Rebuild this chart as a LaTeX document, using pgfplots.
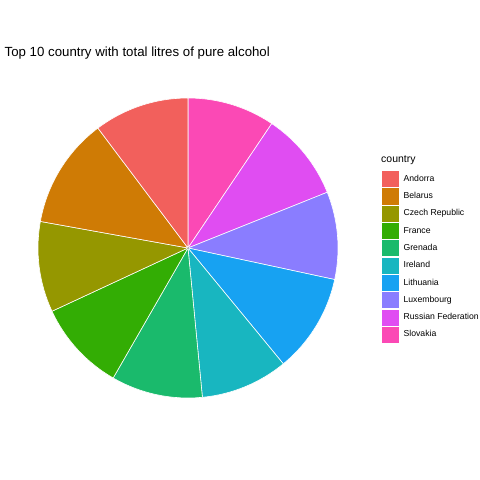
\documentclass[border=0pt]{standalone}
\usepackage{pgfplots}
\usepackage{pgfplotstable}
\pgfplotsset{compat=1.18}
\usepackage{fontspec}
\setmainfont{Liberation Sans}
\definecolor{col0}{HTML}{F2605C}
\definecolor{col1}{HTML}{CF7B05}
\definecolor{col2}{HTML}{959700}
\definecolor{col3}{HTML}{33AD04}
\definecolor{col4}{HTML}{1ABA6C}
\definecolor{col5}{HTML}{18B6C0}
\definecolor{col6}{HTML}{17A2F2}
\definecolor{col7}{HTML}{8A7DFF}
\definecolor{col8}{HTML}{E04DF2}
\definecolor{col9}{HTML}{FB49B5}
% clockwise from 12 o'clock; cum = litres stacked before the slice
\pgfplotstableread{
idx cum litres
9 0 11.4
8 11.4 11.5
7 22.9 11.4
6 34.3 12.9
5 47.2 11.4
4 58.6 11.9
3 70.5 11.8
2 82.3 11.8
1 94.1 14.4
0 108.5 12.4
}\drinks
\def\total{120.9}
\newcommand\key[2]{\addlegendimage{legend image code/.code={\fill[#1] (0bp,-7.5bp) rectangle (15.5bp,7.5bp);}}\addlegendentry{#2}}
\begin{document}
\begin{tikzpicture}
\begin{axis}[
  scale only axis, width=480bp, height=480bp,
  xmin=0, xmax=480, ymin=0, ymax=480, y dir=reverse,
  hide axis, clip=false,
  legend cell align=left,
  legend style={at={(axis cs:382,171)}, anchor=north west, draw=none, fill=none,
    inner sep=0pt, row sep=1.9bp, font=\fontsize{8.7}{9.5}\selectfont,
    nodes={inner sep=0pt}},
  /tikz/every odd column/.append style={column sep=5.5bp},
]
\path (axis cs:0,0) rectangle (axis cs:480,480);
\addplot[forget plot, scatter, only marks, mark=*, mark size=0.01pt,
  mark options={draw=none, fill=none},
  visualization depends on={\thisrow{idx} \as \idx},
  visualization depends on={\thisrow{cum} \as \cum},
  visualization depends on={\thisrow{litres} \as \lit},
  scatter/@pre marker code/.code={%
    \pgfmathtruncatemacro\ii{\idx}%
    \pgfmathsetmacro\aa{90-\cum/\total*360}%
    \pgfmathsetmacro\bb{90-(\cum+\lit)/\total*360}%
    \filldraw[fill=col\ii, draw=white, line width=0.6bp] (0,0) -- (\aa:150bp) arc[start angle=\aa, end angle=\bb, radius=150bp] -- cycle;%
  },
  scatter/@post marker code/.code={},
] table[x expr=188, y expr=248] {\drinks};
\key{col0}{Andorra}
\key{col1}{Belarus}
\key{col2}{Czech Republic}
\key{col3}{France}
\key{col4}{Grenada}
\key{col5}{Ireland}
\key{col6}{Lithuania}
\key{col7}{Luxembourg}
\key{col8}{Russian Federation}
\key{col9}{Slovakia}
\node[anchor=west, inner sep=0pt, font=\fontsize{13.3}{15}\selectfont] at (axis cs:4.5,53.5) {Top 10 country with total litres of pure alcohol};
\node[anchor=west, inner sep=0pt, font=\fontsize{10.5}{12}\selectfont] at (axis cs:381,160) {country};
\end{axis}
\end{tikzpicture}
\end{document}
